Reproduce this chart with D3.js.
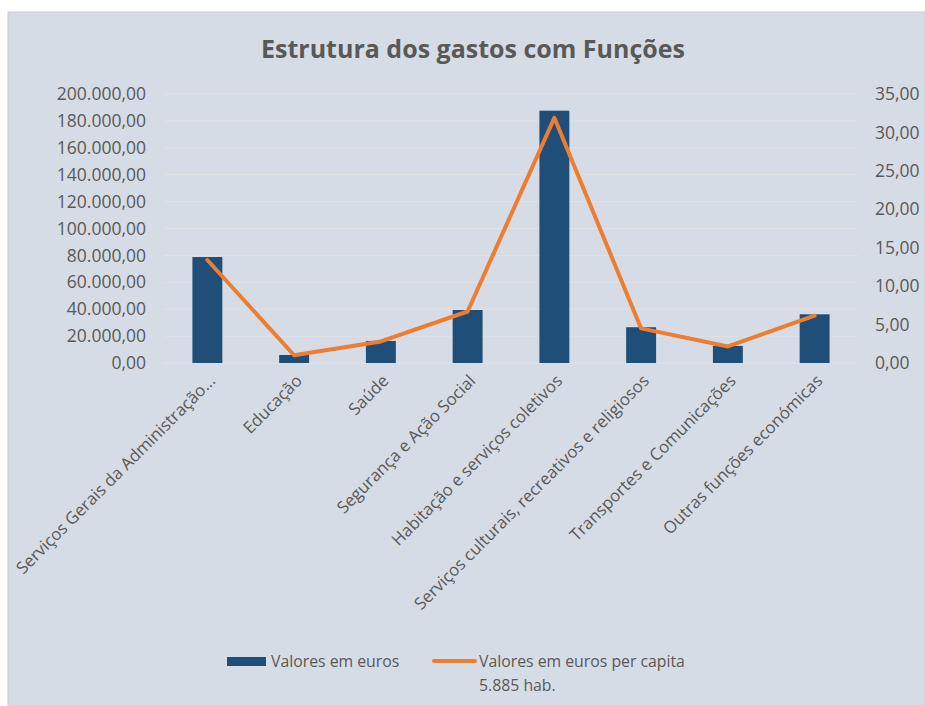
<!DOCTYPE html>
<html>
<head>
<meta charset="utf-8">
<script src="https://cdn.jsdelivr.net/npm/d3@7"></script>
<style>
  body { margin: 0; background: #fff; }
  .axis text { font-family: "Open Sans", sans-serif; fill: #595959; }
</style>
</head>
<body>
<div id="chart"></div>
<script>
(function() {
  // Data
  var categories = [
    "Serviços Gerais da Administração...",
    "Educação",
    "Saúde",
    "Segurança e Ação Social",
    "Habitação e serviços coletivos",
    "Serviços culturais, recreativos e religiosos",
    "Transportes e Comunicações",
    "Outras funções económicas"
  ]
  var valoresEuros = [78800, 5950, 16400, 39400, 187600, 26600, 12700, 36200]
  var perCapita = [13.4, 1.01, 2.8, 6.7, 31.9, 4.5, 2.15, 6.15]
  var leftTicks = [0, 20000, 40000, 60000, 80000, 100000, 120000, 140000, 160000, 180000, 200000]
  var rightTicks = [0, 5, 10, 15, 20, 25, 30, 35]

  var W = 925, H = 706
  var margin = { top: 94, left: 164, right: 67, bottom: 343 }
  var width = W - margin.left - margin.right,
    height = H - margin.top - margin.bottom

  var svg = d3.select("#chart")
    .append("svg")
    .attr("width", W)
    .attr("height", H)

  // chart background
  svg.append("rect")
    .attr("x", 8).attr("y", 12)
    .attr("width", W - 8).attr("height", H - 12)
    .attr("fill", "#d6dce5")
    .attr("stroke", "#c9ccd2")
    .attr("stroke-width", 1)

  svg.append("text")
    .attr("x", 473).attr("y", 58)
    .attr("text-anchor", "middle")
    .attr("font-family", "'Open Sans', sans-serif")
    .attr("font-weight", "bold")
    .attr("font-size", 25)
    .attr("fill", "#595959")
    .text("Estrutura dos gastos com Funções")

  var g = svg.append("g")
    .attr("transform", "translate(" + margin.left + "," + margin.top + ")")

  var xPositionScale = d3.scaleBand()
    .domain(categories)
    .range([0, width])
    .paddingInner(0.655)
    .paddingOuter(0.3275)

  var yPositionScale = d3.scaleLinear()
    .domain([0, 200000])
    .range([height, 0])

  var yRightScale = d3.scaleLinear()
    .domain([0, 35])
    .range([height, 0])

  var fmt = d3.formatLocale({ decimal: ",", thousands: ".", grouping: [3], currency: ["", "€"] })
  var numFormat = fmt.format(",.2f")

  // gridlines
  g.selectAll(".grid")
    .data(leftTicks)
    .enter().append("line")
    .attr("class", "grid")
    .attr("x1", 0).attr("x2", width)
    .attr("y1", function(d) { return yPositionScale(d) })
    .attr("y2", function(d) { return yPositionScale(d) })
    .attr("stroke", "#e2e2e2")
    .attr("stroke-width", 1)

  g.selectAll(".bar")
    .data(valoresEuros)
    .enter().append("rect")
    .attr("class", "bar")
    .attr("x", function(d, i) { return xPositionScale(categories[i]) })
    .attr("width", xPositionScale.bandwidth())
    .attr("y", function(d) { return yPositionScale(d) })
    .attr("height", function(d) { return height - yPositionScale(d) })
    .attr("fill", "#1f4e79")

  var line = d3.line()
    .x(function(d, i) { return xPositionScale(categories[i]) + xPositionScale.bandwidth() / 2 })
    .y(function(d) { return yRightScale(d) })

  g.append("path")
    .datum(perCapita)
    .attr("d", line)
    .attr("fill", "none")
    .attr("stroke", "#ed7d31")
    .attr("stroke-width", 4)
    .attr("stroke-linejoin", "round")
    .attr("stroke-linecap", "round")

  // axes
  var yAxis = d3.axisLeft(yPositionScale).tickValues(leftTicks).tickFormat(numFormat).tickSize(0).tickPadding(18)
  g.append("g")
    .attr("class", "axis y-axis")
    .call(yAxis)
    .attr("font-size", 17.5)

  var yAxisRight = d3.axisRight(yRightScale).tickValues(rightTicks).tickFormat(numFormat).tickSize(0).tickPadding(17)
  g.append("g")
    .attr("class", "axis y-axis-right")
    .attr("transform", "translate(" + width + ",0)")
    .call(yAxisRight)
    .attr("font-size", 17.5)

  var xAxis = d3.axisBottom(xPositionScale).tickSize(0).tickPadding(0)
  g.append("g")
    .attr("class", "axis x-axis")
    .attr("transform", "translate(0," + height + ")")
    .call(xAxis)
    .attr("font-size", 16.8)
    .selectAll("text")
    .attr("text-anchor", "end")
    .attr("dy", "0.75em")
    .attr("transform", "translate(0,10) rotate(-45)")

  svg.selectAll(".domain").remove()

  // legend
  var legend = svg.append("g")
    .attr("font-family", "'Open Sans', sans-serif")
    .attr("font-size", 15.8)
    .attr("fill", "#595959")

  legend.append("rect")
    .attr("x", 227).attr("y", 657)
    .attr("width", 39).attr("height", 9)
    .attr("fill", "#1f4e79")
  legend.append("text")
    .attr("x", 271).attr("y", 667)
    .text("Valores em euros")

  legend.append("line")
    .attr("x1", 434).attr("x2", 475)
    .attr("y1", 661).attr("y2", 661)
    .attr("stroke", "#ed7d31")
    .attr("stroke-width", 4)
    .attr("stroke-linecap", "round")
  legend.append("text")
    .attr("x", 479).attr("y", 667)
    .text("Valores em euros per capita")
  legend.append("text")
    .attr("x", 479).attr("y", 691)
    .text("5.885 hab.")
})();
</script>
</body>
</html>
